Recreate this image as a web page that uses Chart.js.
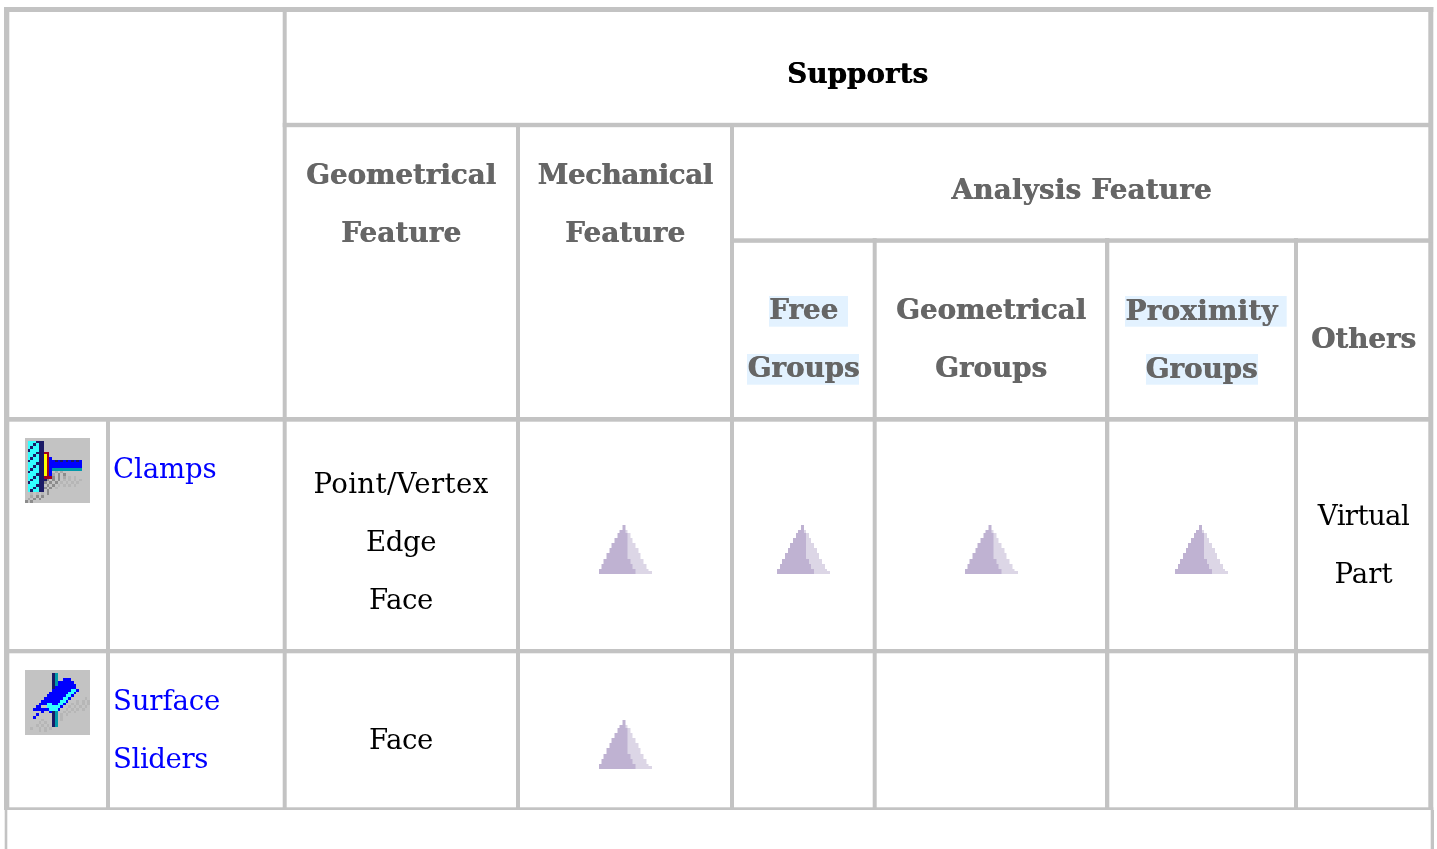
<!DOCTYPE html>
<html>
<head>
<meta charset="utf-8">
<title>Supports</title>
<style>
  html, body { margin: 0; padding: 0; background: #fff; overflow: hidden; }
  canvas { display: block; }
</style>
</head>
<body>
<canvas id="supportsChart" width="1437" height="849"></canvas>
<script src="https://cdn.jsdelivr.net/npm/chart.js@4"></script>
<script>
// Table content
const rowNames = ['Clamps', 'Surface Sliders'];
const supportColumns = ['Mechanical Feature', 'Free Groups', 'Geometrical Groups', 'Proximity Groups'];
// 1 = marked with a triangle
const clampsMarks = [1, 1, 1, 1];
const slidersMarks = [1, 0, 0, 0];
const clampsGeometry = ['Point/Vertex', 'Edge', 'Face'];
const slidersGeometry = ['Face'];
const clampsOthers = ['Virtual', 'Part'];

// Layout of the table, in page pixels
const W = 1437, H = 849;
const markX = [625, 803.5, 991, 1201.5];
const markY = [549.5, 744.5];
const iconX = 57.5;
const iconY = [470.5, 702.5];
const BORDER = '#c3c3c3';
const GREY = '#666666';
const HILITE = '#e3f2ff';
const SERIF = '"DejaVu Serif"';
const FONT_B = 'bold 27.7px ' + SERIF;
const FONT_R = '27.6px ' + SERIF;

// [x0, y0, x1, y1]
const borders = [
  [4, 7, 1433.3, 12],          // top
  [4, 7, 9.3, 810],            // left
  [1428.3, 7, 1433.3, 810],    // right
  [4, 807.3, 1433.3, 810],     // bottom of the inner table
  [4.7, 810, 7.3, 849],        // outer box carries on below
  [1430.7, 810, 1434, 849],
  [282.7, 7, 286.7, 810],
  [516, 123, 520, 810],
  [730, 123, 734, 810],
  [872.7, 238, 876.7, 810],
  [1105, 238, 1109.3, 810],
  [1294, 238, 1298, 810],
  [106, 417, 110, 810],
  [282.7, 122.8, 1433, 127.2],
  [730, 238.3, 1433, 242.8],
  [4, 417, 1433, 421.7],
  [4, 649, 1433, 653.3]
];

const hilites = [
  [769, 296, 848, 326.7],
  [747, 354, 859, 384.7],
  [1125, 296, 1286.7, 326.7],
  [1146, 354, 1258, 384.7]
];

// text, x, baseline, font, colour, align, letter spacing
const cellTexts = [
  ['Supports', 857.5, 83, FONT_B, '#000', 'center', 0.1],
  ['Geometrical', 401, 184, FONT_B, GREY, 'center', 0],
  ['Feature', 401, 242, FONT_B, GREY, 'center', 0.2],
  ['Mechanical', 625, 184, FONT_B, GREY, 'center', -0.4],
  ['Feature', 625, 242, FONT_B, GREY, 'center', 0.2],
  ['Analysis Feature', 1081.5, 199, FONT_B, GREY, 'center', 0.25],
  ['Free', 803.5, 319, FONT_B, GREY, 'center', 0],
  ['Groups', 803.5, 377, FONT_B, GREY, 'center', 0],
  ['Geometrical', 991, 319, FONT_B, GREY, 'center', 0],
  ['Groups', 991, 377, FONT_B, GREY, 'center', 0],
  ['Proximity', 1201.5, 320, FONT_B, GREY, 'center', 0.3],
  ['Groups', 1201.5, 378, FONT_B, GREY, 'center', 0],
  ['Others', 1363.5, 348, FONT_B, GREY, 'center', 0],
  ['Clamps', 113, 478, FONT_R, '#0000ff', 'left', -0.15],
  ['Surface', 113, 710, FONT_R, '#0000ff', 'left', -0.15],
  ['Sliders', 113, 768, FONT_R, '#0000ff', 'left', -0.4],
  [clampsGeometry[0], 401, 493, FONT_R, '#000', 'center', 0.35],
  [clampsGeometry[1], 401, 551, FONT_R, '#000', 'center', -0.4],
  [clampsGeometry[2], 401, 609, FONT_R, '#000', 'center', -0.4],
  [slidersGeometry[0], 401, 749, FONT_R, '#000', 'center', -0.4],
  [clampsOthers[0], 1363.5, 525, FONT_R, '#000', 'center', -0.6],
  [clampsOthers[1], 1363.5, 583, FONT_R, '#000', 'center', 0]
];

// Pixel art for the toolbar icons, one char per source pixel
const iconColours = {
  '.': '#c3c3c3', c: '#33ffff', n: '#1a1a66', r: '#a00020', y: '#ffff00',
  b: '#0000ff', t: '#0099aa', d: '#8c8c8c', m: '#a8a8a8', l: '#b6b6b6'
};
const clampSprite = [
  '',
  '.cccnnn',
  '.ccncnn',
  '.cnccnn',
  '.ncccnn',
  '.cccnnnrr',
  '.ccncnnyr',
  '.cnccnnyrb',
  '.ncccnnyrbbnbnbnbnbnb',
  '.cccnnnyrbbbbbbbbbbbb',
  '.ccncnnyrbbbbbbbbbbbb',
  '.cnccnnyrbttttttttttt',
  '.ncccnnyrb.m.m',
  '.cccnnnyrbm.d.d',
  '.ccncnnrrrd.d.m.l.l',
  '.cnccnnnd.d.d.l.l.l.l.',
  '.ncccnnd.d.d.l.l.l.l',
  '.cccnnn.d.d.l.l.l.l.',
  '.ccncnnd.d.l',
  '.cnccnn.d.',
  '..l.l.l.d.',
  '..m.d.d.',
  '.m.d.d',
  'd.d.'
];
const sliderSprite = [
  '',
  '..........nt',
  '..........nt',
  '..........nt..bbb',
  '..........ntbbbbbb',
  '..........ntbbbbbbb',
  '..........nbbbbbbbb',
  '..........bbbbbbbccb',
  '.........bbbbbbbccb',
  '........bbbbbbbccb',
  '.......bbbbbbbccb.....l',
  '......bbbbbbbccb...l.l.l',
  '.....bbbccbbccb..l.l.l.l',
  '....bb..cccccb..l.l.l.l.',
  '...bbbbbbcccb..l.l.l.l',
  '......b..bnt..l.l.l',
  '....b.....nt.l.l.',
  '...b......nt.l.',
  '......l...nt.l',
  '.....l.l..nt',
  '....l.l.l.nt',
  '..l..l.l.l',
  '.....l.l',
  ''
];

function makeSprite(rows, cols, w, h) {
  const c = document.createElement('canvas');
  c.width = w;
  c.height = h;
  const ctx = c.getContext('2d');
  ctx.fillStyle = iconColours['.'];
  ctx.fillRect(0, 0, w, h);
  const sx = w / cols, sy = h / rows.length;
  rows.forEach((row, j) => {
    for (let i = 0; i < row.length; i++) {
      ctx.fillStyle = iconColours[row[i]];
      ctx.fillRect(Math.round(i * sx), Math.round(j * sy), Math.round((i + 1) * sx) - Math.round(i * sx), Math.round((j + 1) * sy) - Math.round(j * sy));
    }
  });
  return c;
}

// Two tone stepped triangle: [left, end of dark, right] for each source row
function makeTriangle() {
  const steps = [
    [9, 10, 10], [9, 10, 10], [8, 10, 11], [7, 11, 12], [7, 11, 12], [6, 11, 13],
    [6, 11, 13], [5, 11, 14], [5, 11, 14], [4, 11, 15], [4, 11, 15], [3, 11, 16],
    [3, 11, 16], [2, 12, 17], [2, 12, 17], [1, 13, 18], [1, 13, 18], [0, 14, 19], [0, 14, 20]
  ];
  const w = 53, h = 49;
  const c = document.createElement('canvas');
  c.width = w;
  c.height = h;
  const ctx = c.getContext('2d');
  const sx = w / 20, sy = h / steps.length;
  steps.forEach((s, j) => {
    const y0 = Math.round(j * sy), y1 = Math.round((j + 1) * sy);
    const x0 = Math.round(s[0] * sx), x1 = Math.round(s[1] * sx), x2 = Math.round(s[2] * sx);
    ctx.fillStyle = '#dcd6e6';
    ctx.fillRect(x0, y0, x2 - x0, y1 - y0);
    ctx.fillStyle = '#bfb2d2';
    ctx.fillRect(x0, y0, x1 - x0, y1 - y0);
  });
  return c;
}

// Build the points from the mark tables
const markPoints = [];
[clampsMarks, slidersMarks].forEach((marks, r) => {
  marks.forEach((m, k) => {
    if (m) markPoints.push({ x: markX[k], y: markY[r] });
  });
});

const tablePlugin = {
  id: 'tablePlugin',
  beforeDatasetsDraw(chart) {
    const ctx = chart.ctx;
    const sx = chart.scales.x, sy = chart.scales.y;
    const box = (b) => ctx.fillRect(sx.getPixelForValue(b[0]), sy.getPixelForValue(b[1]),
      sx.getPixelForValue(b[2]) - sx.getPixelForValue(b[0]), sy.getPixelForValue(b[3]) - sy.getPixelForValue(b[1]));
    ctx.save();
    ctx.fillStyle = HILITE;
    hilites.forEach(box);
    ctx.fillStyle = BORDER;
    borders.forEach(box);
    ctx.textBaseline = 'alphabetic';
    cellTexts.forEach((t) => {
      ctx.font = t[3];
      ctx.fillStyle = t[4];
      ctx.textAlign = t[5];
      ctx.letterSpacing = t[6] + 'px';
      // reference headers are a bit heavier than DejaVu bold
      const heavy = t[3] === FONT_B;
      ctx.shadowColor = heavy ? t[4] : 'transparent';
      ctx.shadowOffsetX = heavy ? 0.6 : 0;
      ctx.fillText(t[0], sx.getPixelForValue(t[1]), sy.getPixelForValue(t[2]));
    });
    ctx.restore();
  }
};

new Chart(document.getElementById('supportsChart'), {
  type: 'scatter',
  data: {
    datasets: [
      {
        label: 'Supported',
        data: markPoints,
        pointStyle: makeTriangle(),
        pointRadius: 26,
        clip: false
      },
      {
        label: rowNames[0],
        data: [{ x: iconX, y: iconY[0] }],
        pointStyle: makeSprite(clampSprite, 24, 65, 65),
        pointRadius: 32,
        clip: false
      },
      {
        label: rowNames[1],
        data: [{ x: iconX, y: iconY[1] }],
        pointStyle: makeSprite(sliderSprite, 24, 65, 65),
        pointRadius: 32,
        clip: false
      }
    ]
  },
  options: {
    responsive: false,
    animation: false,
    events: [],
    layout: { padding: 0, autoPadding: false },
    plugins: { legend: { display: false }, tooltip: { enabled: false } },
    scales: {
      x: { type: 'linear', display: false, min: 0, max: W },
      y: { type: 'linear', display: false, min: 0, max: H, reverse: true }
    }
  },
  plugins: [tablePlugin]
});
</script>
</body>
</html>
